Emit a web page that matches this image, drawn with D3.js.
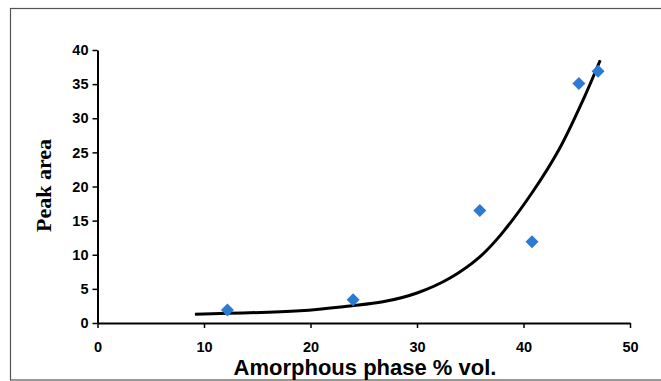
<!DOCTYPE html>
<html><head><meta charset="utf-8">
<script src="https://cdn.jsdelivr.net/npm/d3@7"></script>
<style>body{margin:0;background:#fff}svg{display:block}</style>
</head><body>
<script>
const xTicks = [0, 10, 20, 30, 40, 50];
const yTicks = [0, 5, 10, 15, 20, 25, 30, 35, 40];
const amorphous = [12.2, 24.0, 35.9, 40.8, 45.2, 47.0];
const peakArea = [1.9, 3.4, 16.5, 11.9, 35.1, 36.9];
const trendX = [9.15, 19.0, 23.7, 26.8, 30.0, 33.1, 35.9, 37.8, 40.9, 43.4, 45.6, 47.2];
const trendY = [1.3, 1.8, 2.5, 3.1, 4.4, 6.6, 9.7, 12.8, 19.3, 25.6, 32.7, 38.5];

const W = 661, H = 381;
const svg = d3.select("body").append("svg").attr("width", W).attr("height", H);

// outer frame
svg.append("rect").attr("x", 10.5).attr("y", 8.5).attr("width", W).attr("height", H - 9 - 0.5)
  .attr("fill", "none").attr("stroke", "#555").attr("stroke-width", 1.2);

const x = d3.scaleLinear().domain([0, 50]).range([97.5, 630]);
const y = d3.scaleLinear().domain([0, 40]).range([323, 50]);

const xAxis = svg.append("g").attr("transform", `translate(0,${y(0)})`)
  .call(d3.axisBottom(x).tickValues(xTicks).tickSize(5).tickSizeOuter(0).tickPadding(14));
const yAxis = svg.append("g").attr("transform", `translate(${x(0)},0)`)
  .call(d3.axisLeft(y).tickValues(yTicks).tickSize(5).tickSizeOuter(0).tickPadding(4));

[xAxis, yAxis].forEach(g => {
  g.select(".domain").attr("stroke", "#000").attr("stroke-width", 2);
  g.selectAll(".tick line").attr("stroke", "#000").attr("stroke-width", 1.5);
  g.selectAll(".tick text").attr("fill", "#000")
    .style("font-family", "'Liberation Sans', Arial, sans-serif")
    .style("font-weight", "bold").style("font-size", "14.5px");
});

// trend line
const trend = trendX.map((d, i) => [d, trendY[i]]);
svg.append("path").datum(trend)
  .attr("d", d3.line().x(d => x(d[0])).y(d => y(d[1])).curve(d3.curveCatmullRom))
  .attr("fill", "none").attr("stroke", "#000").attr("stroke-width", 3);

// markers
svg.selectAll(".pt").data(amorphous.map((d, i) => [d, peakArea[i]])).enter()
  .append("path").attr("class", "pt")
  .attr("transform", d => `translate(${x(d[0])},${y(d[1])})`)
  .attr("d", "M0,-6.5L6.5,0L0,6.5L-6.5,0Z")
  .attr("fill", "#2b7bd4");

// axis titles
svg.append("text").attr("x", 365).attr("y", 375)
  .attr("text-anchor", "middle")
  .style("font-family", "'Liberation Sans', Arial, sans-serif")
  .style("font-weight", "bold").style("font-size", "22px")
  .text("Amorphous phase % vol.");

svg.append("text").attr("transform", `translate(51,${(y(0) + y(40)) / 2 - 1}) rotate(-90)`)
  .attr("text-anchor", "middle")
  .style("font-family", "'Liberation Serif', 'Times New Roman', serif")
  .style("font-weight", "bold").style("font-size", "22px")
  .text("Peak area");
</script>
</body></html>
